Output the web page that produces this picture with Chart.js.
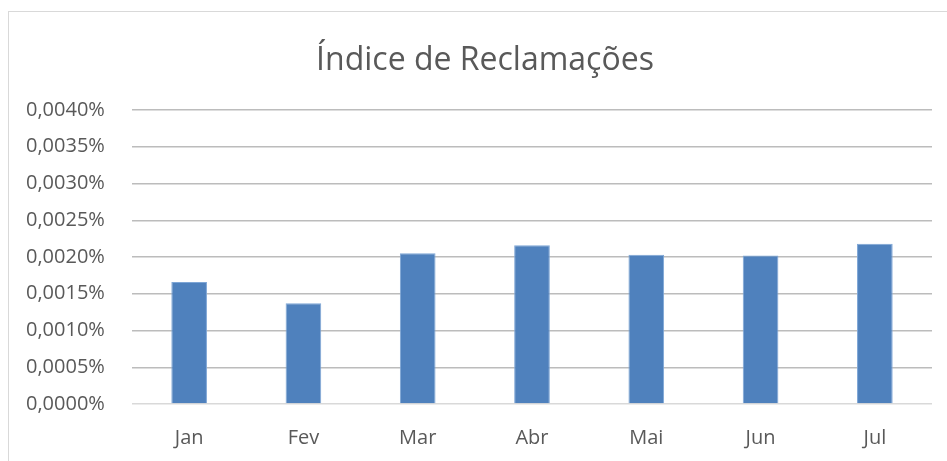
<!DOCTYPE html>
<html lang="pt">
<head>
<meta charset="utf-8">
<title>Índice de Reclamações</title>
<script src="https://cdn.jsdelivr.net/npm/chart.js@4"></script>
<style>
  html, body { margin: 0; padding: 0; background: #ffffff; overflow: hidden; }
  #frame {
    position: absolute; left: 8px; top: 11px; width: 1000px; height: 1000px;
    border: 1px solid #d9d9d9; box-sizing: border-box;
  }
  #chartIndice { position: absolute; left: 0; top: 0; }
</style>
</head>
<body>
<div id="frame"></div>
<canvas id="chartIndice" width="947" height="461"></canvas>
<script>
// dados (valores em %)
const meses = ['Jan', 'Fev', 'Mar', 'Abr', 'Mai', 'Jun', 'Jul'];
const indice = [0.00166, 0.00137, 0.00205, 0.00216, 0.00203, 0.00202, 0.00218];
const eixoMin = 0;
const eixoMax = 0.004;
const eixoPasso = 0.0005;

const corTexto = '#595959';
const fonte = "'Open Sans', 'Noto Sans', sans-serif";

function formatPct(v) {
  return v.toFixed(4).replace('.', ',') + '%';
}

// título centrado como no original: o eixo y fica estreito e os rótulos
// são desenhados em modo mirror com padding negativo (sem recorte)
new Chart(document.getElementById('chartIndice'), {
  type: 'bar',
  data: {
    labels: meses,
    datasets: [{
      label: 'Índice',
      data: indice,
      backgroundColor: '#4f81bd',
      borderColor: '#7ea6d6',
      borderWidth: 1,
      barPercentage: 0.312,
      categoryPercentage: 1
    }]
  },
  options: {
    responsive: false,
    animation: false,
    layout: { padding: { left: 38, right: 15, top: 0, bottom: 0 } },
    plugins: {
      legend: { display: false },
      tooltip: { enabled: false },
      title: {
        display: true,
        text: 'Índice de Reclamações',
        color: corTexto,
        font: { family: fonte, size: 32, weight: 'normal' },
        padding: { top: 42, bottom: 29.6 }
      }
    },
    scales: {
      x: {
        grid: { display: false, drawTicks: false },
        border: { display: false },
        ticks: { color: corTexto, font: { family: fonte, size: 20 }, padding: 22 },
        afterFit: s => { s.height = 57; }
      },
      y: {
        min: eixoMin,
        max: eixoMax,
        border: { display: false },
        grid: {
          drawTicks: false,
          lineWidth: 1.5,
          color: c => (c.tick && c.tick.value === 0 ? '#d9d9d9' : '#bcbcbc')
        },
        ticks: {
          stepSize: eixoPasso,
          color: corTexto,
          font: { family: fonte, size: 20 },
          mirror: true,
          crossAlign: 'near',
          padding: -106,
          callback: v => formatPct(v)
        },
        afterFit: s => { s.width = 94; }
      }
    }
  }
});
</script>
</body>
</html>
